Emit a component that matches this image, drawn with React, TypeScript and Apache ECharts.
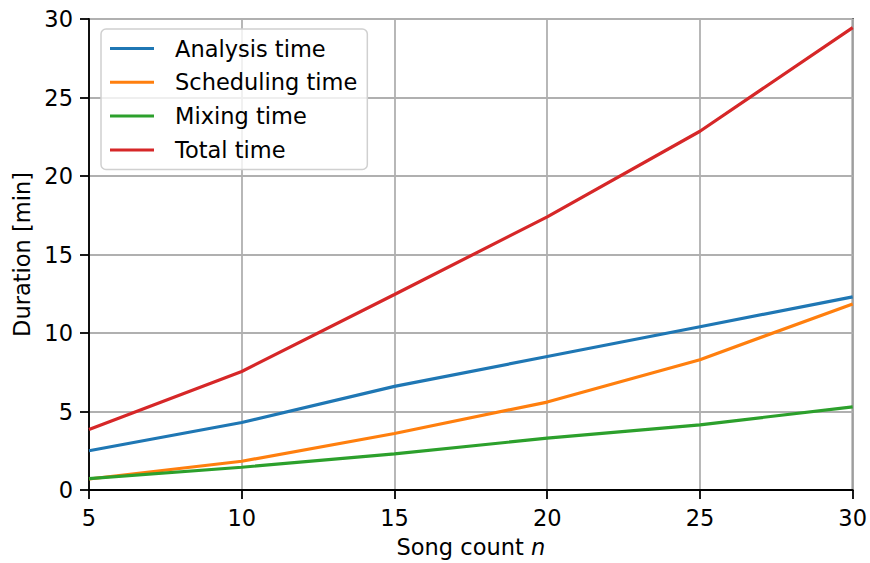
import React, { useEffect, useRef } from "react";
import * as echarts from "echarts";

const songCounts = [5, 10, 15, 20, 25, 30];
const analysisTime = [2.5, 4.3, 6.6, 8.5, 10.4, 12.3];
const schedulingTime = [0.7, 1.83, 3.6, 5.6, 8.3, 11.85];
const mixingTime = [0.72, 1.45, 2.3, 3.3, 4.15, 5.3];
const totalTime = [3.85, 7.55, 12.45, 17.4, 22.85, 29.45];

const seriesNames = ["Analysis time", "Scheduling time", "Mixing time", "Total time"];
const seriesColors = ["#1f77b4", "#ff7f0e", "#2ca02c", "#d62728"];
const seriesValues = [analysisTime, schedulingTime, mixingTime, totalTime];

const FONT = "DejaVu Sans";
const FS = 22.5;

export default function App() {
  const ref = useRef<HTMLDivElement>(null);
  useEffect(() => {
    if (!ref.current) return;
    const chart = echarts.init(ref.current, undefined, { renderer: "svg" });
    chart.setOption({
      animation: false,
      backgroundColor: "#fff",
      textStyle: { fontFamily: FONT },
      grid: {
        left: 89,
        right: 15,
        top: 19,
        bottom: 69,
        show: true,
        borderColor: "#000",
        borderWidth: 1.8,
        backgroundColor: "transparent",
      },
      legend: {
        left: 101,
        top: 29,
        orient: "vertical",
        icon: "rect",
        itemWidth: 44,
        itemHeight: 3,
        itemGap: 10.8,
        padding: [8, 10, 8, 9],
        backgroundColor: "rgba(255,255,255,0.8)",
        borderColor: "#d0d0d0",
        borderWidth: 1.5,
        borderRadius: 5,
        textStyle: { fontFamily: FONT, fontSize: FS, color: "#000", padding: [0, 0, 0, 16], lineHeight: 22 },
        data: seriesNames,
      },
      xAxis: {
        type: "value",
        min: 5,
        max: 30,
        interval: 5,
        name: "Song count {i|n}",
        nameLocation: "middle",
        nameGap: 45,
        nameTextStyle: {
          fontFamily: FONT,
          fontSize: FS,
          color: "#000",
          rich: { i: { fontStyle: "italic", fontFamily: FONT, fontSize: FS, color: "#000" } },
        },
        axisLine: { show: true, onZero: false, lineStyle: { color: "#000", width: 1.8 } },
        axisTick: { show: true, inside: false, length: 9, lineStyle: { color: "#000", width: 1.8 } },
        axisLabel: { fontFamily: FONT, fontSize: FS, color: "#000", margin: 16 },
        splitLine: { show: true, lineStyle: { color: "#b0b0b0", width: 1.8 } },
      },
      yAxis: {
        type: "value",
        min: 0,
        max: 30,
        interval: 5,
        name: "Duration [min]",
        nameLocation: "middle",
        nameGap: 56,
        nameTextStyle: { fontFamily: FONT, fontSize: FS, color: "#000" },
        axisLine: { show: true, onZero: false, lineStyle: { color: "#000", width: 1.8 } },
        axisTick: { show: true, inside: false, length: 9, lineStyle: { color: "#000", width: 1.8 } },
        axisLabel: { fontFamily: FONT, fontSize: FS, color: "#000", margin: 16 },
        splitLine: { show: true, lineStyle: { color: "#b0b0b0", width: 1.8 } },
      },
      series: seriesNames.map((name, i) => ({
        name,
        type: "line",
        data: songCounts.map((x, j) => [x, seriesValues[i][j]]),
        showSymbol: false,
        symbol: "none",
        color: seriesColors[i],
        lineStyle: { color: seriesColors[i], width: 3.2 },
        z: 3,
      })),
    });
    return () => chart.dispose();
  }, []);
  return (
    <div
      ref={ref}
      style={{ position: "absolute", left: 0, top: 0, width: 870, height: 563 }}
    />
  );
}
